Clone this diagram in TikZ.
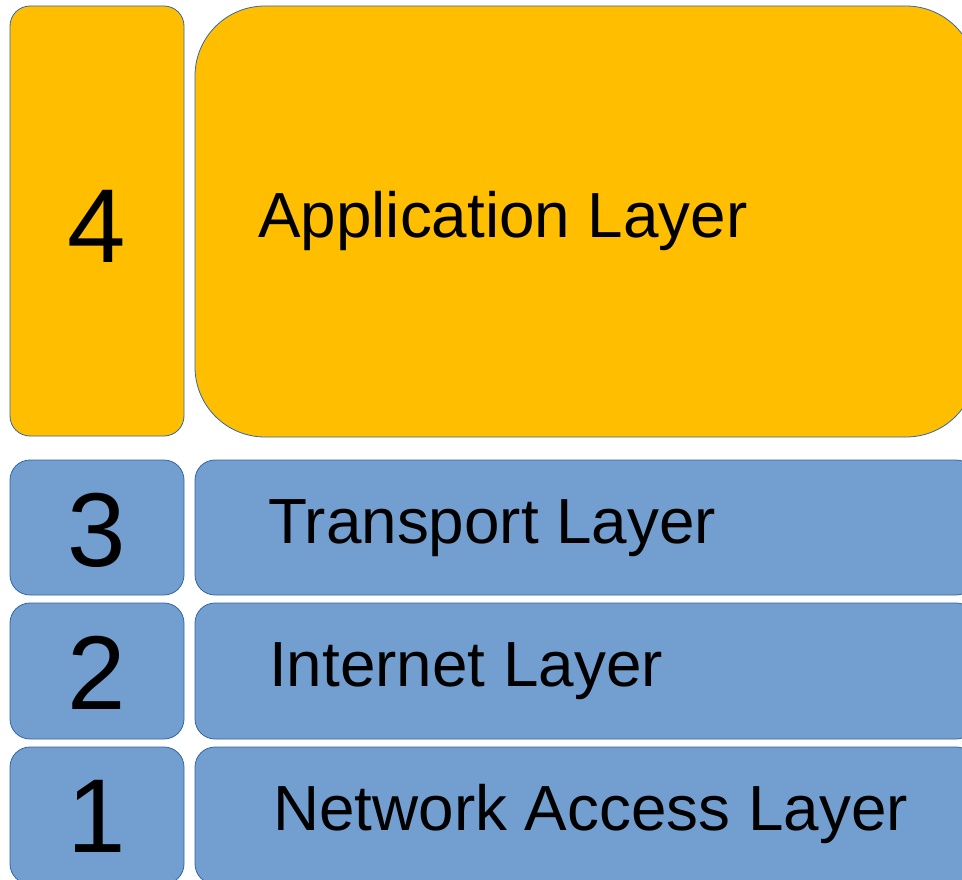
\documentclass[tikz,border=0pt]{standalone}
\usepackage{fontspec}
\setmainfont{Liberation Sans}
\definecolor{gold}{HTML}{FFBF00}
\definecolor{sky}{HTML}{729FCF}
\definecolor{edge}{HTML}{3465A4}
\tikzset{
  layerbox/.style={draw=edge, line width=0.8pt, rounded corners=20pt},
  appbox/.style={layerbox, fill=gold, rounded corners=70pt},
  numbox/.style={layerbox},
  digitlabel/.style={font=\fontsize{105}{110}\selectfont, anchor=base, inner sep=0pt},
  layerlabel/.style={font=\fontsize{63.8}{68}\selectfont, anchor=base west, inner sep=0pt},
}
\begin{document}
\begin{tikzpicture}[x=1pt,y=-1pt]
\useasboundingbox (0,0) rectangle (962,880);
\clip (0,0) rectangle (962,880);
% left column: layer numbers
\draw[numbox, fill=gold] (10,6) rectangle (184,436);
\draw[numbox, fill=sky] (10,460) rectangle (184,595);
\draw[numbox, fill=sky] (10,603) rectangle (184,739);
\draw[numbox, fill=sky] (10,747) rectangle (184,884);
% right column: layer names
\draw[appbox] (195,6) rectangle (976,437);
\draw[layerbox, fill=sky] (195,460) rectangle (976,595);
\draw[layerbox, fill=sky] (195,603) rectangle (976,739);
\draw[layerbox, fill=sky] (195,747) rectangle (976,884);
% labels
\node[digitlabel] (d4) at (97,262) {4};
\node[digitlabel] (d3) at (97,566) {3};
\node[digitlabel] (d2) at (97,709) {2};
\node[digitlabel] (d1) at (97,852) {1};
\node[layerlabel] (app) at (258,237) {Application Layer};
\node[layerlabel] (tra) at (268,543) {Transport Layer};
\node[layerlabel] (int) at (269,686) {Internet Layer};
\node[layerlabel] (net) at (273,830) {Network Access Layer};
\end{tikzpicture}
\end{document}
